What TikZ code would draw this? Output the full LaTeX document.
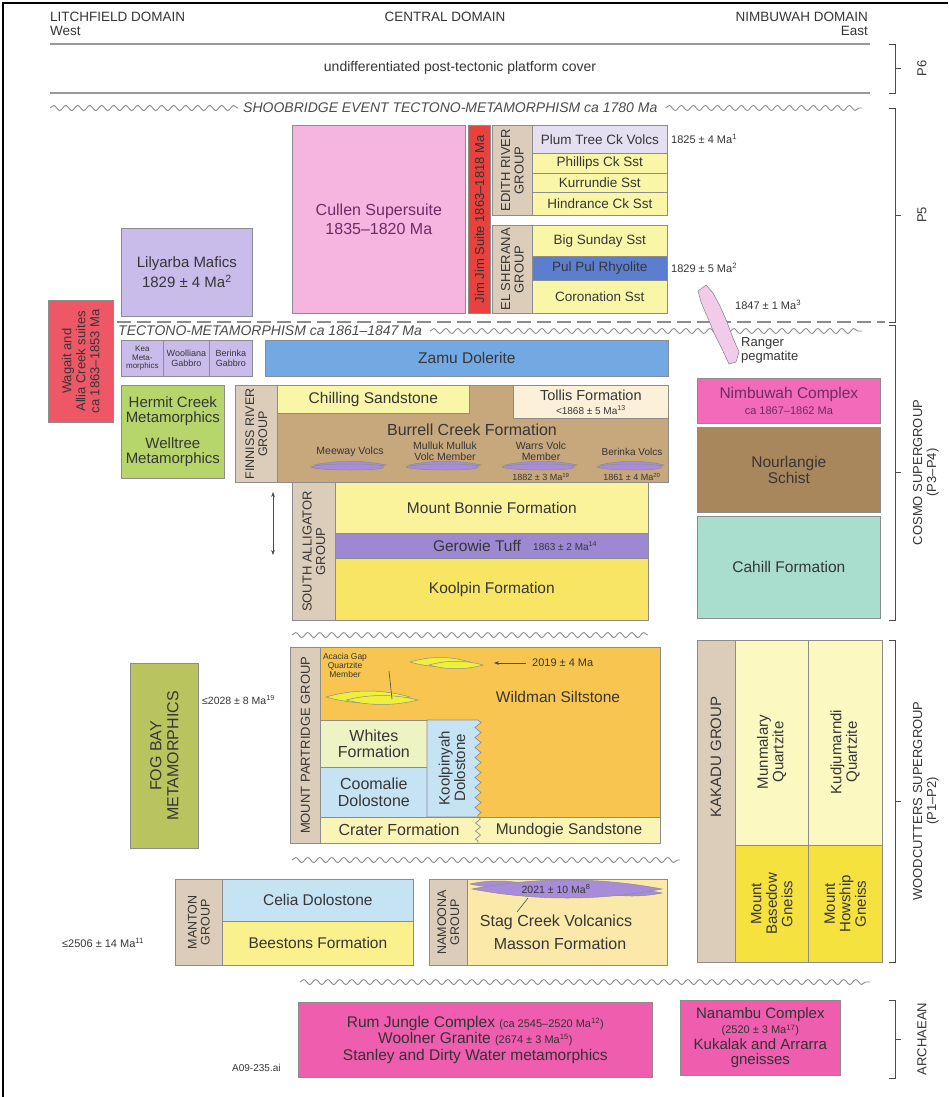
\documentclass[tikz,border=0pt]{standalone}
\usepackage{fontspec}
\setmainfont{Liberation Sans}
\usetikzlibrary{decorations.pathmorphing}
\usetikzlibrary{arrows.meta}

\definecolor{cullenpink}{HTML}{F6B4E0}
\definecolor{cullentext}{HTML}{6E2C66}
\definecolor{jimred}{HTML}{E8423E}
\definecolor{grptan}{HTML}{DCCDBB}
\definecolor{volclav}{HTML}{E5DFF2}
\definecolor{sstyel}{HTML}{FAF6A8}
\definecolor{rhyblue}{HTML}{5C7ED0}
\definecolor{maflav}{HTML}{C9BBEA}
\definecolor{wagred}{HTML}{EE5866}
\definecolor{zamublue}{HTML}{72A9E2}
\definecolor{metgreen}{HTML}{B6D66C}
\definecolor{burbrown}{HTML}{C7A77C}
\definecolor{tolcream}{HTML}{FCF0D8}
\definecolor{bonyel}{HTML}{FBF39C}
\definecolor{tuffpurp}{HTML}{9C89D2}
\definecolor{kooyel}{HTML}{F8E564}
\definecolor{nimpink}{HTML}{F26AB9}
\definecolor{nourbrown}{HTML}{A9875C}
\definecolor{cahteal}{HTML}{A9DDCD}
\definecolor{wildorange}{HTML}{F8C650}
\definecolor{whitesgreen}{HTML}{EEF3C4}
\definecolor{dolblue}{HTML}{C6E3F4}
\definecolor{cratyel}{HTML}{FAF4B6}
\definecolor{fogolive}{HTML}{B9C45E}
\definecolor{beesyel}{HTML}{FAF08E}
\definecolor{namcream}{HTML}{FAE9A8}
\definecolor{kakpale}{HTML}{FCF8C2}
\definecolor{gneissyel}{HTML}{F5E23E}
\definecolor{archpink}{HTML}{EF5DAE}
\definecolor{lenspurp}{HTML}{A88CDA}
\definecolor{lensyel}{HTML}{EFEF3E}
\definecolor{pegpink}{HTML}{F3CBEA}
\definecolor{inktext}{HTML}{363636}

\tikzset{
  unitbox/.style={draw=black!45, line width=0.7pt, inner sep=1pt, align=center,
    text=inktext, font=\fontsize{15.5}{16.5}\selectfont},
  fmn/.style={font=\fontsize{13.5}{14}\selectfont},
  grp/.style={rotate=90, align=center, text=inktext, inner sep=0pt,
    font=\fontsize{13}{13.5}\selectfont},
  fmtxt/.style={text=inktext, inner sep=0pt, align=center,
    font=\fontsize{15.5}{16.5}\selectfont},
  agetxt/.style={text=inktext, inner sep=0pt, font=\fontsize{11}{12}\selectfont},
  volctxt/.style={text=inktext, inner sep=0pt, align=center,
    font=\fontsize{10.5}{10.5}\selectfont},
  datetxt/.style={text=inktext, inner sep=0pt, align=center,
    font=\fontsize{9}{9.5}\selectfont},
  domtxt/.style={text=inktext, inner sep=0pt, font=\fontsize{13.5}{14}\selectfont},
  eventtxt/.style={text=black!70, inner sep=0pt, font=\fontsize{14}{14}\selectfont\itshape},
  wavy/.style={draw=black!45, line width=0.9pt, decorate,
    decoration={snake, segment length=12pt, amplitude=2.5pt}},
  platrule/.style={draw=black!40, line width=1.8pt},
  bracket/.style={draw=black!70, line width=0.8pt},
  periodlabel/.style={rotate=90, align=center, text=inktext, inner sep=0pt,
    font=\fontsize{13}{14}\selectfont},
}

% box from (x1,y1) to (x2,y2), y counted downwards
\newcommand{\stratbox}[8][]{%
  \node[unitbox, #1, fill=#3, anchor=north west,
    minimum width={(#6-#4)*1pt}, minimum height={(#7-#5)*1pt}] (#2) at (#4,#5) {#8};}
% lens: centre x, centre y, half length, bulge, colour
\newcommand{\lensat}[5]{%
  \filldraw[draw=black!45, line width=0.5pt, fill=#5]
    ({#1-#3},#2) .. controls ({#1-#3/3},{#2-#4}) and ({#1+#3/3},{#2-#4}) .. ({#1+#3},#2)
    .. controls ({#1+#3/3},{#2+#4}) and ({#1-#3/3},{#2+#4}) .. cycle;}
% period bracket on the right
\newcommand{\periodbracket}[5]{%
  \draw[bracket] (889,#1) -- (895,#1) -- (895,#2) -- (889,#2);
  \draw[bracket] (895,{(#1+#2)/2}) -- (901,{(#1+#2)/2});
  \node[periodlabel] (#4) at (#5,{(#1+#2)/2}) {#3};}

\begin{document}
\begin{tikzpicture}[x=1pt,y=-1pt]
\fill[white] (0,0) rectangle (948,1097);
\useasboundingbox (0,0) rectangle (948,1097);
\draw[black, line width=1.5pt] (3,1097) -- (3,3) -- (948,3);

% domains
\node[domtxt, anchor=west] (LitH) at (50,17) {LITCHFIELD DOMAIN};
\node[domtxt, anchor=west] (West) at (50,31) {West};
\node[domtxt] (CenH) at (445,17) {CENTRAL DOMAIN};
\node[domtxt, anchor=east] (NimH) at (868,17) {NIMBUWAH DOMAIN};
\node[domtxt, anchor=east] (East) at (868,31) {East};

% P6
\draw[platrule] (50,44) -- (870,44);
\node[fmtxt, font=\fontsize{14}{15}\selectfont] (Cover) at (460,68)
  {undifferentiated post-tectonic platform cover};
\draw[platrule] (50,93) -- (870,93);

% Shoobridge event
\draw[wavy] (50,108) -- (238,108);
\node[eventtxt, anchor=west] (Shoob) at (243,108)
  {SHOOBRIDGE EVENT TECTONO-METAMORPHISM ca 1780 Ma};
\draw[wavy] ([xshift=8pt]Shoob.east) -- (862,108);

% P5 central column
\stratbox[text=cullentext, font=\fontsize{16}{19}\selectfont]{Cul}{cullenpink}{292}{125}{465}{313}
  {Cullen Supersuite\\1835–1820 Ma}
\stratbox{JimJ}{jimred}{468}{125}{490}{313}{}
\node[grp, font=\fontsize{13}{13}\selectfont, text=black!80] at (JimJ) {Jim Jim Suite 1863–1818 Ma};
\stratbox{EdR}{grptan}{492}{125}{532}{215}{}
\node[grp] at (EdR) {EDITH RIVER\\GROUP};
\stratbox[fmn]{PlumT}{volclav}{532}{125}{667}{153}{Plum Tree Ck Volcs}
\stratbox[fmn]{Phil}{sstyel}{532}{153}{667}{173}{Phillips Ck Sst}
\stratbox[fmn]{Kurr}{sstyel}{532}{173}{667}{192}{Kurrundie Sst}
\stratbox[fmn]{Hind}{sstyel}{532}{192}{667}{215}{Hindrance Ck Sst}
\stratbox{ElSh}{grptan}{492}{225}{532}{313}{}
\node[grp] at (ElSh) {EL SHERANA\\GROUP};
\stratbox[fmn]{BigS}{sstyel}{532}{225}{667}{256}{Big Sunday Sst}
\stratbox[fmn]{PulP}{rhyblue}{532}{256}{667}{280}{Pul Pul Rhyolite}
\stratbox[fmn]{Coro}{sstyel}{532}{280}{667}{313}{Coronation Sst}
\node[agetxt, anchor=west] (PlumAge) at (671,139) {1825 ± 4 Ma\textsuperscript{1}};
\node[agetxt, anchor=west] (PulAge) at (671,268) {1829 ± 5 Ma\textsuperscript{2}};
\node[agetxt, anchor=west] (RangAge) at (735,305) {1847 ± 1 Ma\textsuperscript{3}};

% Litchfield side, upper
\stratbox[font=\fontsize{15}{20}\selectfont]{Lily}{maflav}{121}{228}{252}{316}
  {Lilyarba Mafics\\1829 ± 4 Ma\textsuperscript{2}}
\stratbox{Wag}{wagred}{48}{300}{113}{422}{}
\node[grp, font=\fontsize{13}{14}\selectfont] at (Wag) {Wagait and\\Allia Creek suites\\ca 1863–1853 Ma};

% Tectono-metamorphism
\draw[black!45, line width=1.2pt, dash pattern=on 14pt off 6pt] (117,322) -- (885,322);
\node[eventtxt, anchor=west] (Tect) at (118,331) {TECTONO-METAMORPHISM ca 1861–1847 Ma};
\draw[wavy] ([xshift=8pt]Tect.east) -- (862,331);

% pegmatite
\filldraw[draw=black!50, line width=0.5pt, fill=pegpink]
  (698,291) -- (706,285) -- (713,293) -- (720,306) -- (727,322) -- (733,338)
  -- (739,352) -- (736,362) -- (729,364) -- (722,349) -- (714,333) -- (707,316)
  -- (701,302) -- cycle;
\node[fmtxt, font=\fontsize{13}{14}\selectfont, anchor=west, align=left] (Rang) at (741,350)
  {Ranger\\pegmatite};

% Kea row and Zamu
\stratbox[font=\fontsize{8}{8.5}\selectfont]{Kea}{maflav}{121}{340}{163}{376}{Kea\\Meta-\\morphics}
\stratbox[font=\fontsize{9}{10}\selectfont]{Wool}{maflav}{163}{340}{209}{376}{Woolliana\\Gabbro}
\stratbox[font=\fontsize{9}{10}\selectfont]{BerG}{maflav}{209}{340}{252}{376}{Berinka\\Gabbro}
\stratbox{Zamu}{zamublue}{265}{340}{668}{376}{Zamu Dolerite}

% Hermit Creek
\stratbox[font=\fontsize{15}{15}\selectfont]{Herm}{metgreen}{121}{385}{224}{478}
  {Hermit Creek\\Metamorphics\\[11pt]Welltree\\Metamorphics}

% Finniss River Group
\stratbox{Burr}{burbrown}{277}{385}{668}{482}{}
\stratbox{FinnG}{grptan}{235}{385}{277}{482}{}
\node[grp, font=\fontsize{12.5}{13}\selectfont] at (FinnG) {FINNISS RIVER\\GROUP};
\stratbox{Chil}{sstyel}{277}{385}{469}{413}{Chilling Sandstone}
\stratbox[font=\fontsize{14.5}{14}\selectfont]{Toll}{tolcream}{513}{385}{668}{418}
  {Tollis Formation\\{\fontsize{10}{10}\selectfont <1868 ± 5 Ma\textsuperscript{13}}}
\node[fmtxt, font=\fontsize{16}{16}\selectfont] (BurrT) at (472,430) {Burrell Creek Formation};
\foreach \cx/\hl in {350/36, 445/36, 541/36, 632/32} {
  \lensat{\cx}{465}{\hl}{5}{lenspurp}
  \lensat{\cx+5}{467}{\hl-8}{4}{lenspurp}
}
\node[volctxt] (Meew) at (350,452) {Meeway Volcs};
\node[volctxt] (Mull) at (445,451) {Mulluk Mulluk\\Volc Member};
\node[volctxt] (Warr) at (541,451) {Warrs Volc\\Member};
\node[volctxt, font=\fontsize{10}{10}\selectfont] (Beri) at (632,452) {Berinka Volcs};
\node[datetxt] (WarrAge) at (541,477) {1882 ± 3 Ma\textsuperscript{19}};
\node[datetxt] (BeriAge) at (632,477) {1861 ± 4 Ma\textsuperscript{20}};

% South Alligator Group
\stratbox{SAG}{grptan}{292}{482}{335}{620}{}
\node[grp] at (SAG) {SOUTH ALLIGATOR\\GROUP};
\stratbox{Bonn}{bonyel}{335}{482}{648}{533}{Mount Bonnie Formation}
\stratbox{Gero}{tuffpurp}{335}{533}{648}{558}{}
\node[fmtxt] (GeroT) at (477,545.5) {Gerowie Tuff};
\node[datetxt, anchor=west, font=\fontsize{10}{10}\selectfont] (GeroAge) at (533,546)
  {1863 ± 2 Ma\textsuperscript{14}};
\stratbox{Kool}{kooyel}{335}{558}{648}{620}{Koolpin Formation}
\coordinate (ArrTop) at (273,492);
\coordinate (ArrBot) at (273,555);
\draw[black!70, line width=0.7pt, {Stealth[length=5pt]}-{Stealth[length=5pt]}] (ArrTop) -- (ArrBot);

% Nimbuwah side
\stratbox[text=cullentext]{Nimb}{nimpink}{697}{378}{880}{423}
  {Nimbuwah Complex\\{\fontsize{11}{12}\selectfont ca 1867–1862 Ma}}
\stratbox{Nour}{nourbrown}{697}{427}{880}{512}{Nourlangie\\Schist}
\stratbox{Cahi}{cahteal}{697}{516}{880}{618}{Cahill Formation}

% Mount Partridge Group
\draw[wavy] (292,635) -- (648,635);
\stratbox{Wild}{wildorange}{290}{647}{660}{843}{}
\stratbox{MPG}{grptan}{290}{647}{320}{843}{}
\node[grp] at (MPG) {MOUNT PARTRIDGE GROUP};
\node[fmtxt] (WildT) at (558,697) {Wildman Siltstone};
\stratbox[font=\fontsize{16}{16.5}\selectfont]{Whit}{whitesgreen}{320}{720}{427}{767}{Whites\\Formation}
\stratbox[font=\fontsize{16}{16.5}\selectfont]{Coom}{dolblue}{320}{767}{427}{817}{Coomalie\\Dolostone}
\filldraw[draw=black!45, line width=0.7pt, fill=dolblue] (427,720) -- (478,720)
  decorate[decoration={zigzag, segment length=10pt, amplitude=3pt}] {-- (478,817)}
  -- (427,817) -- cycle;
\node[grp, font=\fontsize{15}{15.5}\selectfont] (Kpin) at (452,768) {Koolpinyah\\Dolostone};
\stratbox{CrMu}{cratyel}{320}{817}{660}{843}{}
\draw[black!45, line width=0.7pt] (478,817)
  decorate[decoration={zigzag, segment length=8pt, amplitude=2.5pt}] {-- (478,843)};
\node[fmtxt, font=\fontsize{16}{16}\selectfont] (Crat) at (399,830) {Crater Formation};
\node[fmtxt] (Mund) at (569,830) {Mundogie Sandstone};
\lensat{440}{662}{30}{6}{lensyel}
\lensat{456}{665}{27}{5}{lensyel}
\lensat{368}{697}{42}{8}{lensyel}
\lensat{382}{700}{36}{6}{lensyel}
\node[datetxt, font=\fontsize{8.5}{9}\selectfont] (Acac) at (345,665) {Acacia Gap\\Quartzite\\Member};
\coordinate (AcacTip) at (389,671);
\coordinate (AcacEnd) at (392,699);
\draw[black!70, line width=0.6pt] (AcacTip) -- (AcacEnd);
\node[agetxt, anchor=west] (WildAge) at (532,663) {2019 ± 4 Ma};
\coordinate (LensR) at (494,663);
\draw[black!70, line width=0.6pt, -{Stealth[length=5pt]}] ([xshift=-6pt]WildAge.west) -- (LensR);
\node[agetxt, anchor=west, font=\fontsize{10.5}{11}\selectfont] (FogAge) at (202,700)
  {≤2028 ± 8 Ma\textsuperscript{19}};

% Fog Bay
\stratbox{Fog}{fogolive}{130}{663}{198}{848}{}
\node[grp, font=\fontsize{16}{17}\selectfont] at (Fog) {FOG BAY\\METAMORPHICS};

% Manton and Namoona
\draw[wavy] (292,860) -- (680,860);
\stratbox{ManG}{grptan}{175}{879}{222}{965}{}
\node[grp, font=\fontsize{12.5}{13}\selectfont] at (ManG) {MANTON\\GROUP};
\stratbox{Celi}{dolblue}{222}{879}{413}{921}{Celia Dolostone}
\stratbox{Bees}{beesyel}{222}{921}{413}{965}{Beestons Formation}
\node[agetxt, anchor=west, font=\fontsize{11}{11}\selectfont] (ManAge) at (62,943)
  {≤2506 ± 14 Ma\textsuperscript{11}};
\stratbox{NamG}{grptan}{429}{879}{467}{965}{}
\node[grp, font=\fontsize{12.5}{13}\selectfont] at (NamG) {NAMOONA\\GROUP};
\stratbox{Namo}{namcream}{467}{879}{667}{965}{}
\lensat{498}{884}{28}{4}{lenspurp}
\lensat{632}{893}{30}{4}{lenspurp}
\lensat{567}{889}{95}{12}{lenspurp}
\node[datetxt, font=\fontsize{10.5}{11}\selectfont] (StagAge) at (556,889) {2021 ± 10 Ma\textsuperscript{8}};
\node[fmtxt, font=\fontsize{16}{16}\selectfont] (Stag) at (556,922) {Stag Creek Volcanics};
\node[fmtxt, font=\fontsize{16}{16}\selectfont] (Mass) at (560,944) {Masson Formation};
\coordinate (StagLead) at (528,898);
\coordinate (StagEnd) at (517,912);
\draw[black!70, line width=0.6pt] (StagLead) -- (StagEnd);

% Kakadu Group
\stratbox{KakG}{grptan}{697}{640}{735}{962}{}
\node[grp, font=\fontsize{15}{15}\selectfont] at (716,757) {KAKADU GROUP};
\stratbox{Munm}{kakpale}{735}{640}{808}{845}{}
\node[grp, font=\fontsize{15}{15.5}\selectfont] at (771.5,752) {Munmalary\\Quartzite};
\stratbox{Kudj}{kakpale}{808}{640}{882}{845}{}
\node[grp, font=\fontsize{15}{15.5}\selectfont] at (845,752) {Kudjumarndi\\Quartzite};
\stratbox{Base}{gneissyel}{735}{845}{808}{962}{}
\node[grp, font=\fontsize{15}{15.5}\selectfont] at (Base) {Mount\\Basedow\\Gneiss};
\stratbox{Hows}{gneissyel}{808}{845}{882}{962}{}
\node[grp, font=\fontsize{15}{15.5}\selectfont] at (Hows) {Mount\\Howship\\Gneiss};

% Archaean
\draw[wavy] (300,982) -- (870,982);
\stratbox[text=black!80]{RumJ}{archpink}{298}{1002}{652}{1077}
  {Rum Jungle Complex {\fontsize{11}{11}\selectfont(ca 2545–2520 Ma\textsuperscript{12})}\\
   Woolner Granite {\fontsize{11}{11}\selectfont(2674 ± 3 Ma\textsuperscript{15})}\\
   Stanley and Dirty Water metamorphics}
\stratbox[text=black!80, font=\fontsize{15}{15.5}\selectfont]{Nana}{archpink}{680}{1000}{840}{1075}
  {Nanambu Complex\\{\fontsize{11}{13}\selectfont(2520 ± 3 Ma\textsuperscript{17})}\\
   Kukalak and Arrarra\\gneisses}
\node[datetxt, anchor=west, font=\fontsize{10}{10}\selectfont] (FigNo) at (232,1068) {A09-235.ai};

% periods
\periodbracket{44}{93}{P6}{PSix}{922}
\periodbracket{108}{322}{P5}{PFive}{922}
\periodbracket{325}{620}{COSMO SUPERGROUP\\(P3–P4)}{Cosmo}{926}
\periodbracket{640}{962}{WOODCUTTERS SUPERGROUP\\(P1–P2)}{Wood}{926}
\periodbracket{1000}{1078}{ARCHAEAN}{Arch}{922}
\end{tikzpicture}
\end{document}
